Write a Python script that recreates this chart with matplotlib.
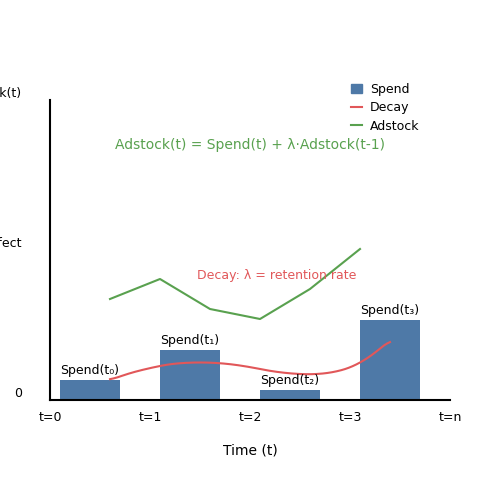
import matplotlib.pyplot as plt
from matplotlib.patches import Patch
from matplotlib.lines import Line2D
import numpy as np

# data
bar_x = [0.4, 1.4, 2.4, 3.4]
bar_h = [0.2, 0.5, 0.1, 0.8]
bar_labels = ['Spend(t₀)', 'Spend(t₁)', 'Spend(t₂)', 'Spend(t₃)']

adstock_x = [0.6, 1.1, 1.6, 2.1, 2.6, 3.1]
adstock_y = [1.01, 1.21, 0.91, 0.81, 1.11, 1.51]

decay_x = [0.6, 0.8, 1.0, 1.2, 1.4, 1.6, 1.8, 2.0, 2.2, 2.4, 2.6, 2.8, 3.0, 3.2, 3.4]
decay_y = [0.20, 0.27, 0.32, 0.36, 0.375, 0.375, 0.36, 0.33, 0.29, 0.265, 0.255, 0.27, 0.32, 0.43, 0.60]

xticks = [0, 1, 2, 3, 4]
xtick_labels = ['t=0', 't=1', 't=2', 't=3', 't=n']
yticks = [0, 1.5, 3]
ytick_labels = ['0', 'Effect', 'Adstock(t)']

blue = '#4e79a7'
red = '#e15759'
green = '#59a14f'

fig = plt.figure(figsize=(5, 5), dpi=100)
ax = fig.add_axes([0.1, 0.2, 0.8, 0.6])

ax.bar(bar_x, bar_h, width=0.6, color=blue)
for x, h, lab in zip(bar_x, bar_h, bar_labels):
    ax.text(x, h + 0.03, lab, ha='center', va='bottom', fontsize=9)

# smooth the read decay points
xs = np.linspace(decay_x[0], decay_x[-1], 300)
ys = np.interp(xs, decay_x, decay_y)
ys = np.convolve(np.pad(ys, 10, mode='edge'), np.ones(21) / 21, mode='valid')
ax.plot(xs, ys, color=red, lw=1.5)
ax.plot(adstock_x, adstock_y, color=green, lw=1.5)

ax.text(2.0, 2.55, 'Adstock(t) = Spend(t) + λ·Adstock(t-1)', color=green,
        ha='center', va='center', fontsize=10)
ax.text(2.27, 1.24, 'Decay: λ = retention rate', color=red,
        ha='center', va='center', fontsize=9)

ax.set_xlim(0, 4)
ax.set_ylim(0, 3)
ax.set_xticks(xticks)
ax.set_xticklabels(xtick_labels, fontsize=9)
ax.set_yticks(yticks)
ax.set_yticklabels(ytick_labels, fontsize=9, va='bottom')
ax.tick_params(length=0, pad=8)
ax.tick_params(axis='y', pad=20)
for s in ['left', 'bottom']:
    ax.spines[s].set_linewidth(1.5)
ax.spines['top'].set_visible(False)
ax.spines['right'].set_visible(False)
ax.set_xlabel('Time (t)', fontsize=10, labelpad=14)

handles = [Patch(color=blue, label='Spend'),
           Line2D([], [], color=red, label='Decay'),
           Line2D([], [], color=green, label='Adstock')]
ax.legend(handles=handles, loc='upper left', bbox_to_anchor=(0.74, 1.075),
          frameon=False, fontsize=9, handlelength=0.9, handletextpad=0.6,
          labelspacing=0.45, borderaxespad=0)

fig.savefig('out.png', dpi=100)
